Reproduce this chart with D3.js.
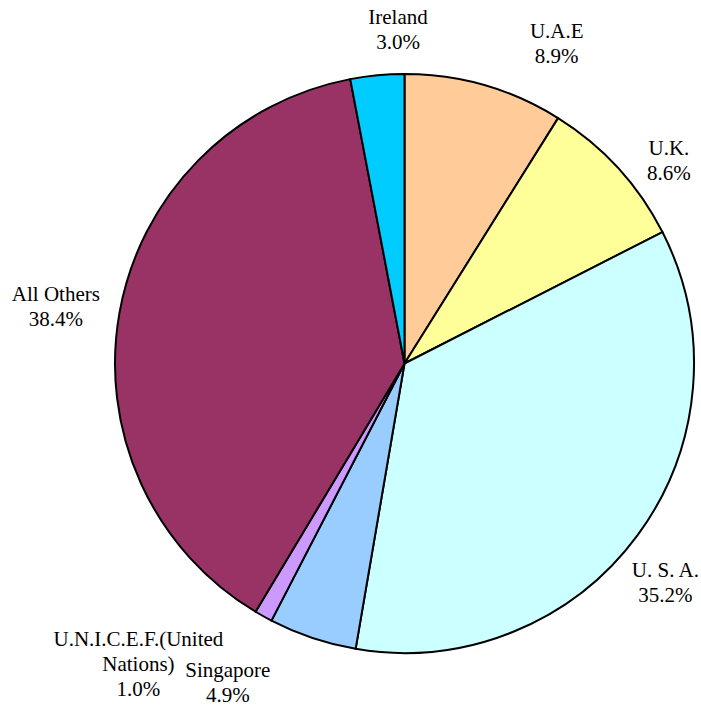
<!DOCTYPE html>
<html>
<head>
<meta charset="utf-8">
<script src="https://cdn.jsdelivr.net/npm/d3@7"></script>
<style>
  body { margin: 0; background: #fff; }
  svg { display: block; }
</style>
</head>
<body>
<svg width="701" height="706"></svg>
<script>
// data, clockwise from 12 o'clock
var countries = ['U.A.E', 'U.K.', 'U. S. A.', 'Singapore', 'U.N.I.C.E.F.(United Nations)', 'All Others', 'Ireland'];
var shares = [8.9, 8.6, 35.2, 4.9, 1.0, 38.4, 3.0];
var labelLines = [['U.A.E'], ['U.K.'], ['U. S. A.'], ['Singapore'], ['U.N.I.C.E.F.(United', 'Nations)'], ['All Others'], ['Ireland']];

var colors = ['#ffcc99', '#ffff99', '#ccffff', '#99ccff', '#cc99ff', '#993366', '#00ccff'];
// small hand nudges so labels sit where the original put them
var nudge = [[57, 11], [10, 30], [-17, 14], [-67, -8], [-98, -1], [-9, 3], [26, 9]];

var svg = d3.select('svg');
var cx = 404.5, cy = 363.5, radius = 289.5;
var lineHeight = 25;

var data = countries.map(function(c, i) {
    return { name: c, value: shares[i], lines: labelLines[i], i: i };
});

var pie = d3.pie()
    .sort(null)
    .value(function(d) { return d.value; });

var arc = d3.arc().innerRadius(0).outerRadius(radius);
var labelArc = d3.arc().innerRadius(345).outerRadius(345);

var g = svg.append('g').attr('transform', 'translate(' + cx + ',' + cy + ')');

var arcs = pie(data);

g.selectAll('path')
    .data(arcs)
    .enter()
    .append('path')
    .attr('d', arc)
    .attr('fill', function(d) { return colors[d.data.i]; })
    .attr('stroke', '#000')
    .attr('stroke-width', 2)
    .attr('stroke-linejoin', 'round');

var labels = g.selectAll('text.lbl')
    .data(arcs)
    .enter()
    .append('text')
    .attr('class', 'lbl')
    .attr('font-family', "'Liberation Serif', 'Times New Roman', 'DejaVu Serif', serif")
    .attr('font-size', 21)
    .attr('fill', '#000')
    .attr('text-anchor', 'middle')
    .attr('transform', function(d) {
        var c = labelArc.centroid(d);
        var n = nudge[d.data.i];
        return 'translate(' + (c[0] + n[0]) + ',' + (c[1] + n[1]) + ')';
    });

labels.each(function(d) {
    var lines = d.data.lines.concat([d3.format('.1f')(d.data.value) + '%']);
    var t = d3.select(this);
    var top = -(lines.length - 1) * lineHeight / 2;
    lines.forEach(function(l, k) {
        t.append('tspan')
            .attr('x', 0)
            .attr('y', top + k * lineHeight)
            .attr('dy', '0.35em')
            .text(l);
    });
});
</script>
</body>
</html>
